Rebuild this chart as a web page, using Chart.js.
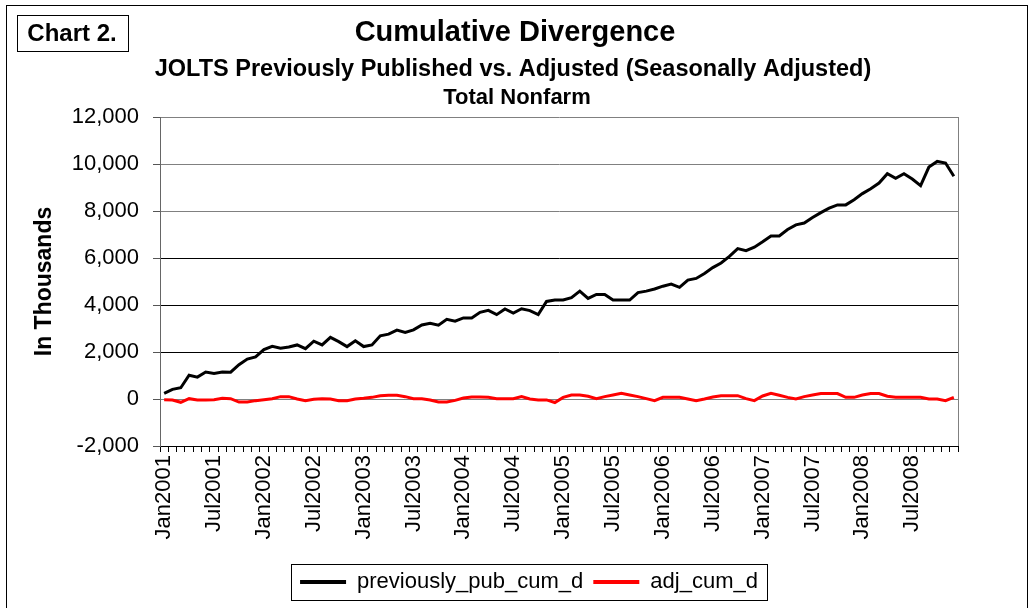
<!DOCTYPE html>
<html>
<head>
<meta charset="utf-8">
<script src="https://cdn.jsdelivr.net/npm/chart.js@4.4.1/dist/chart.umd.min.js"></script>
<style>
  html,body{margin:0;padding:0;background:#fff;}
  #wrap{width:1032px;height:608px;}
</style>
</head>
<body>
<div id="wrap"><canvas id="miGrafico" width="1032" height="608"></canvas></div>
<script>
const FONT = "'Liberation Sans', Arial, sans-serif";

// categories: monthly Jan2001 - Dec2008
const meses = ['Jan','Feb','Mar','Apr','May','Jun','Jul','Aug','Sep','Oct','Nov','Dec'];
const anios = [2001,2002,2003,2004,2005,2006,2007,2008];
const etiquetas = [];
anios.forEach(a => meses.forEach(m => etiquetas.push(m + a)));

// series (in thousands)
const previouslyPubCumD = [
  240, 410, 480, 1010, 930, 1150, 1090, 1150, 1140, 1460, 1700, 1790,
  2100, 2240, 2160, 2210, 2300, 2140, 2460, 2300, 2620, 2440, 2230, 2480,
  2230, 2300, 2690, 2760, 2930, 2830, 2940, 3150, 3220, 3140, 3390, 3310,
  3450, 3450, 3690, 3770, 3590, 3830, 3660, 3840, 3760, 3590, 4150, 4210,
  4210, 4310, 4590, 4280, 4450, 4450, 4210, 4210, 4210, 4530, 4590, 4680,
  4800, 4890, 4750, 5060, 5130, 5340, 5590, 5790, 6070, 6400, 6310, 6460,
  6690, 6940, 6940, 7210, 7410, 7490, 7720, 7930, 8120, 8260, 8260, 8480,
  8740, 8950, 9190, 9590, 9390, 9590, 9360, 9080, 9870, 10110, 10040, 9480
];
const adjCumD = [
  -30, -40, -140, 15, -40, -40, -30, 30, 15, -130, -130, -70,
  -30, 15, 100, 100, 0, -70, -15, 15, 0, -70, -70, 0,
  30, 70, 140, 160, 160, 100, 15, 15, -40, -130, -130, -60,
  40, 85, 85, 70, 15, 15, 15, 100, 0, -40, -40, -150,
  70, 170, 170, 115, 15, 100, 170, 240, 170, 100, 15, -70,
  70, 70, 70, 0, -70, 0, 85, 140, 140, 140, 15, -70,
  130, 240, 160, 70, 0, 100, 170, 230, 230, 230, 70, 70,
  170, 230, 230, 115, 70, 70, 70, 70, 0, 0, -70, 70
];

// y axis ticks
const yMin = -2000, yMax = 12000, yPaso = 2000;

const marco = {
  id: 'marco',
  afterLayout(chart) {
    // leyenda algo desplazada a la derecha, como en el original
    chart.legend.left += 50;
    chart.legend.right += 50;
  },
  beforeDraw(chart) {
    const c = chart.ctx;
    c.save();
    c.fillStyle = '#fff';
    c.fillRect(0, 0, chart.width, chart.height);
    c.strokeStyle = '#000';
    c.lineWidth = 1;
    c.strokeRect(6.5, 5.5, 1021, 620);
    // Chart 2. box
    c.strokeRect(17.5, 15.5, 111, 36);
    c.fillStyle = '#000';
    c.textAlign = 'center';
    c.textBaseline = 'middle';
    c.font = 'bold 24px ' + FONT;
    c.fillText('Chart 2.', 72, 34);
    c.font = 'bold 29px ' + FONT;
    c.fillText('Cumulative Divergence', 515, 33);
    c.font = 'bold 23.5px ' + FONT;
    c.fillText('JOLTS Previously Published vs. Adjusted (Seasonally Adjusted)', 513, 70);
    c.font = 'bold 22px ' + FONT;
    c.fillText('Total Nonfarm', 517, 98);
    c.restore();
  },
  afterDraw(chart) {
    const c = chart.ctx, a = chart.chartArea;
    c.save();
    c.strokeStyle = '#808080';
    c.lineWidth = 1;
    c.beginPath();
    c.moveTo(Math.round(a.right) + 0.5, a.top);
    c.lineTo(Math.round(a.right) + 0.5, a.bottom);
    c.stroke();
    // legend frame
    const hb = chart.legend.legendHitBoxes;
    if (hb && hb.length) {
      let l = Infinity, r = -Infinity, t = Infinity, b = -Infinity;
      hb.forEach(h => {
        l = Math.min(l, h.left); r = Math.max(r, h.left + h.width);
        t = Math.min(t, h.top); b = Math.max(b, h.top + h.height);
      });
      c.strokeStyle = '#000';
      c.strokeRect(Math.round(l - 9) + 0.5, Math.round(t - 7) + 0.5, Math.round(r - l + 18), Math.round(b - t + 14));
    }
    c.restore();
  }
};

const ctx = document.getElementById('miGrafico').getContext('2d');
const miGrafico = new Chart(ctx, {
  type: 'line',
  data: {
    labels: etiquetas,
    datasets: [
      {
        label: 'previously_pub_cum_d',
        data: previouslyPubCumD,
        borderColor: '#000000',
        backgroundColor: '#000000',
        borderWidth: 3,
        pointRadius: 0,
        tension: 0
      },
      {
        label: 'adj_cum_d',
        data: adjCumD,
        borderColor: '#ff0000',
        backgroundColor: '#ff0000',
        borderWidth: 3,
        pointRadius: 0,
        tension: 0
      }
    ]
  },
  options: {
    responsive: false,
    animation: false,
    layout: { padding: { top: 117, right: 74, left: 0, bottom: 5 } },
    plugins: {
      title: { display: false },
      tooltip: { enabled: false },
      legend: {
        position: 'bottom',
        labels: {
          usePointStyle: true,
          pointStyle: 'line',
          pointStyleWidth: 46,
          color: '#000',
          font: { family: FONT, size: 22 },
          padding: 10,
          generateLabels(chart) {
            const items = Chart.defaults.plugins.legend.labels.generateLabels(chart);
            items.forEach(it => { it.lineWidth = 4; });
            return items;
          }
        }
      }
    },
    scales: {
      x: {
        type: 'category',
        offset: true,
        afterFit(scale) { scale.height = 115; },
        border: { display: true, color: '#000', width: 1 },
        grid: {
          display: true,
          drawOnChartArea: false,
          drawTicks: true,
          tickLength: 6,
          color: '#000',
          offset: true
        },
        ticks: {
          autoSkip: false,
          minRotation: 90,
          maxRotation: 90,
          padding: 3,
          color: '#000',
          font: { family: FONT, size: 22 },
          callback(val, i) { return i % 6 === 0 ? etiquetas[i] : ''; }
        }
      },
      y: {
        min: yMin,
        max: yMax,
        afterFit(scale) { scale.width = 160; },
        border: { display: true, color: '#666', width: 1 },
        grid: {
          color(c) {
            const v = c.tick ? c.tick.value : 0;
            return (v >= 8000 || v === 0) ? '#808080' : '#000';
          },
          tickColor: '#555',
          tickLength: 7,
          lineWidth: 1
        },
        ticks: {
          stepSize: yPaso,
          padding: 14,
          color: '#000',
          font: { family: FONT, size: 22 },
          callback(v) { return v.toLocaleString('en-US'); }
        },
        title: {
          display: true,
          text: 'In Thousands',
          color: '#000',
          font: { family: FONT, size: 23, weight: 'bold' },
          padding: { top: 31, bottom: 0 }
        }
      }
    }
  },
  plugins: [marco]
});
</script>
</body>
</html>
